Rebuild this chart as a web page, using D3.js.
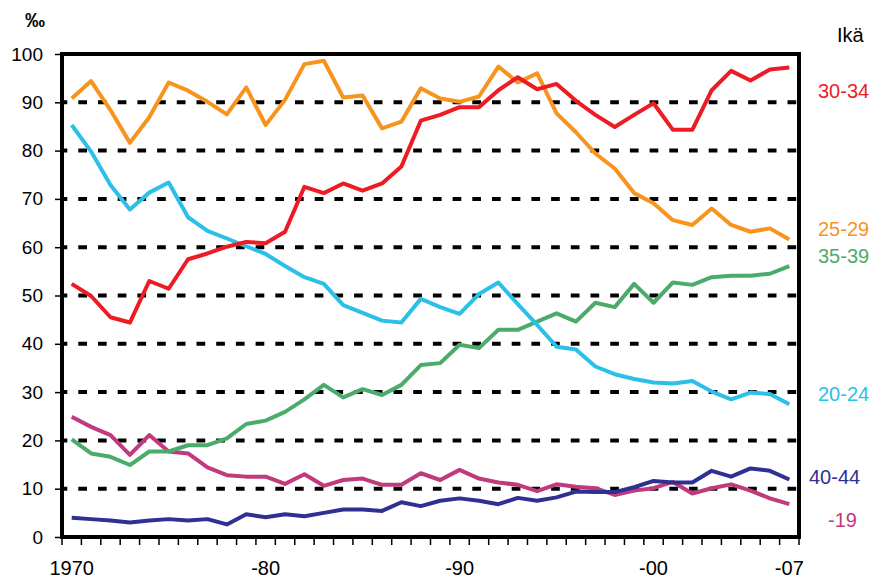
<!DOCTYPE html>
<html>
<head>
<meta charset="utf-8">
<script src="https://cdn.jsdelivr.net/npm/d3@7"></script>
<style>
  body { margin: 0; background: #fff; }
  svg { font-family: 'Liberation Sans', Arial, sans-serif; }
</style>
</head>
<body>
<svg id="chart" width="875" height="579"></svg>
<script>
// years 1970..2007
const years = d3.range(1970, 2008);
const yTicks = [0, 10, 20, 30, 40, 50, 60, 70, 80, 90, 100];
const xLabels = { 1970: '1970', 1980: '-80', 1990: '-90', 2000: '-00', 2007: '-07' };

// births per 1000 women, by age group
const age19 = [24.9, 22.8, 21.1, 17.0, 21.1, 17.7, 17.3, 14.4, 12.8, 12.5, 12.5, 11.0, 13.0, 10.6, 11.8, 12.1, 10.8, 10.8, 13.2, 11.8,
  13.9, 12.1, 11.3, 10.8, 9.5, 10.9, 10.4, 10.1, 8.7, 9.6, 10.1, 11.4, 9.0, 10.1, 10.9, 9.6, 8.0, 6.8];
const age2024 = [85.3, 79.8, 72.9, 67.8, 71.3, 73.4, 66.2, 63.4, 61.8, 60.2, 58.6, 56.1, 53.8, 52.4, 48.0, 46.4, 44.8, 44.4, 49.3, 47.6,
  46.2, 50.3, 52.7, 48.2, 43.9, 39.4, 38.8, 35.3, 33.7, 32.7, 32.0, 31.8, 32.3, 30.1, 28.5, 29.9, 29.6, 27.5];
const age2529 = [90.8, 94.4, 88.4, 81.6, 86.9, 94.1, 92.4, 90.1, 87.5, 93.1, 85.3, 90.5, 97.9, 98.6, 91.0, 91.4, 84.6, 86.0, 92.9, 90.8,
  90.1, 91.2, 97.4, 94.1, 96.0, 87.7, 83.8, 79.4, 76.3, 71.2, 69.1, 65.6, 64.6, 68.0, 64.6, 63.2, 63.9, 61.6];
const age3034 = [52.4, 49.9, 45.5, 44.4, 53.0, 51.4, 57.5, 58.7, 60.1, 61.1, 60.8, 63.2, 72.5, 71.2, 73.2, 71.7, 73.2, 76.7, 86.2, 87.4,
  89.0, 89.0, 92.5, 95.2, 92.7, 93.8, 90.3, 87.4, 84.9, 87.4, 89.8, 84.3, 84.3, 92.5, 96.5, 94.5, 96.8, 97.2];
const age3539 = [20.2, 17.3, 16.6, 14.9, 17.7, 17.7, 19.0, 19.0, 20.4, 23.4, 24.1, 25.9, 28.5, 31.5, 28.9, 30.6, 29.4, 31.5, 35.6, 36.0,
  39.8, 39.1, 42.9, 42.9, 44.6, 46.3, 44.6, 48.5, 47.6, 52.4, 48.5, 52.7, 52.2, 53.8, 54.1, 54.1, 54.5, 56.1];
const age4044 = [4.0, 3.7, 3.4, 3.0, 3.4, 3.7, 3.4, 3.7, 2.6, 4.7, 4.1, 4.7, 4.3, 5.0, 5.7, 5.7, 5.4, 7.2, 6.4, 7.5,
  8.0, 7.5, 6.8, 8.1, 7.5, 8.2, 9.4, 9.3, 9.3, 10.3, 11.6, 11.3, 11.3, 13.7, 12.5, 14.2, 13.7, 11.9];

const series = [
  { name: '-19', values: age19, color: '#c03a7c', lx: 828, ly: 527 },
  { name: '40-44', values: age4044, color: '#2e3192', lx: 809, ly: 484 },
  { name: '35-39', values: age3539, color: '#4bab6b', lx: 818, ly: 263 },
  { name: '20-24', values: age2024, color: '#2cc0e9', lx: 818, ly: 401 },
  { name: '25-29', values: age2529, color: '#f7941e', lx: 818, ly: 236 },
  { name: '30-34', values: age3034, color: '#ed1c24', lx: 818, ly: 98 }
];

const margin = { top: 54, right: 76, bottom: 42, left: 62 };
const width = 875, height = 579;

const svg = d3.select('#chart');

const x = d3.scaleBand()
  .domain(years)
  .range([margin.left, width - margin.right]);

const y = d3.scaleLinear()
  .domain([0, 100])
  .range([height - margin.bottom, margin.top]);

// dashed gridlines
svg.append('g')
  .selectAll('line')
  .data(yTicks.filter(d => d > 0 && d < 100))
  .join('line')
  .attr('x1', margin.left)
  .attr('x2', width - margin.right)
  .attr('y1', d => y(d))
  .attr('y2', d => y(d))
  .attr('stroke', '#000')
  .attr('stroke-width', 4)
  .attr('stroke-dasharray', '8.7,11')
  .attr('stroke-dashoffset', 3.4);

// y axis labels + ticks
const yAxis = svg.append('g')
  .attr('transform', `translate(${margin.left},0)`)
  .call(d3.axisLeft(y).tickValues(yTicks).tickSize(7).tickPadding(12));
yAxis.select('.domain').remove();
yAxis.selectAll('line').attr('stroke-width', 1.5);
yAxis.selectAll('text').attr('font-size', 19).attr('fill', '#000')
  .attr('font-family', "'Liberation Sans', Arial, sans-serif");

// x ticks at band edges
const edges = years.map(d => x(d)).concat([x.range()[1]]);
svg.append('g')
  .selectAll('line')
  .data(edges)
  .join('line')
  .attr('x1', d => d)
  .attr('x2', d => d)
  .attr('y1', y(0))
  .attr('y2', y(0) + 8)
  .attr('stroke', '#000')
  .attr('stroke-width', 1.5);

// x labels
const xAxis = svg.append('g')
  .attr('transform', `translate(0,${y(0)})`)
  .call(d3.axisBottom(x)
    .tickValues(Object.keys(xLabels).map(Number))
    .tickSize(0)
    .tickPadding(24)
    .tickFormat(d => xLabels[d]));
xAxis.select('.domain').remove();
xAxis.selectAll('text').attr('font-size', 20).attr('fill', '#000')
  .attr('font-family', "'Liberation Sans', Arial, sans-serif");

// lines
const line = d3.line()
  .x((d, i) => x(years[i]) + x.bandwidth() / 2)
  .y(d => y(d));

svg.append('g')
  .selectAll('path')
  .data(series)
  .join('path')
  .attr('d', d => line(d.values))
  .attr('fill', 'none')
  .attr('stroke', d => d.color)
  .attr('stroke-width', 4)
  .attr('stroke-linejoin', 'round');

// frame
const [x0, x1] = x.range();
svg.append('rect')
  .attr('x', x0)
  .attr('y', y(100))
  .attr('width', x1 - x0)
  .attr('height', y(0) - y(100))
  .attr('fill', 'none')
  .attr('stroke', '#000')
  .attr('stroke-width', 4);

// series labels
svg.append('g')
  .selectAll('text')
  .data(series)
  .join('text')
  .attr('x', d => d.lx)
  .attr('y', d => d.ly)
  .attr('font-size', 20)
  .attr('fill', d => d.color)
  .text(d => d.name);

svg.append('text')
  .attr('x', 837)
  .attr('y', 42)
  .attr('font-size', 20)
  .text('Ikä');

svg.append('text')
  .attr('x', 25)
  .attr('y', 27)
  .attr('font-size', 20)
  .attr('font-weight', 'bold')
  .text('‰');
</script>
</body>
</html>
